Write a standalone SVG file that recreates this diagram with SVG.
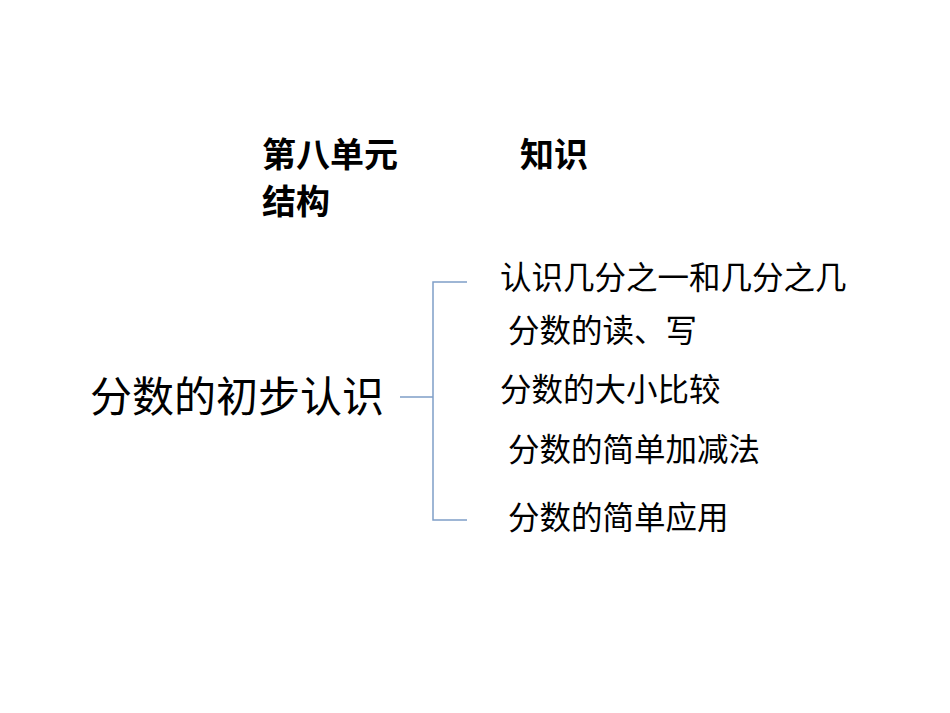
<svg xmlns="http://www.w3.org/2000/svg" width="950" height="713" viewBox="0 0 950 713">
<style>
text{font-family:"Noto Sans CJK SC",sans-serif;fill:#000}
.t{font-size:34px;font-weight:bold}
.m{font-size:42px}
.i{font-size:31.5px}
.c{stroke:#7f9fc8;stroke-width:1.5;fill:none}
</style>
<rect width="950" height="713" fill="#fff"/>
<g id="title"><text class="t" x="262" y="167">第八单元</text><text class="t" x="520" y="167">知识</text><text class="t" x="262" y="214">结构</text></g>
<g id="root"><text class="m" x="90" y="412">分数的初步认识</text></g>
<g id="n1"><text class="i" x="500" y="289">认识几分之一和几分之几</text></g>
<g id="n2"><text class="i" x="508" y="342">分数的读、写</text></g>
<g id="n3"><text class="i" x="500" y="401">分数的大小比较</text></g>
<g id="n4"><text class="i" x="508" y="461">分数的简单加减法</text></g>
<g id="n5"><text class="i" x="508" y="529">分数的简单应用</text></g>
<g id="connectors"><path class="c" d="M400 397H433M467 282H433V520H467"/></g>
</svg>
